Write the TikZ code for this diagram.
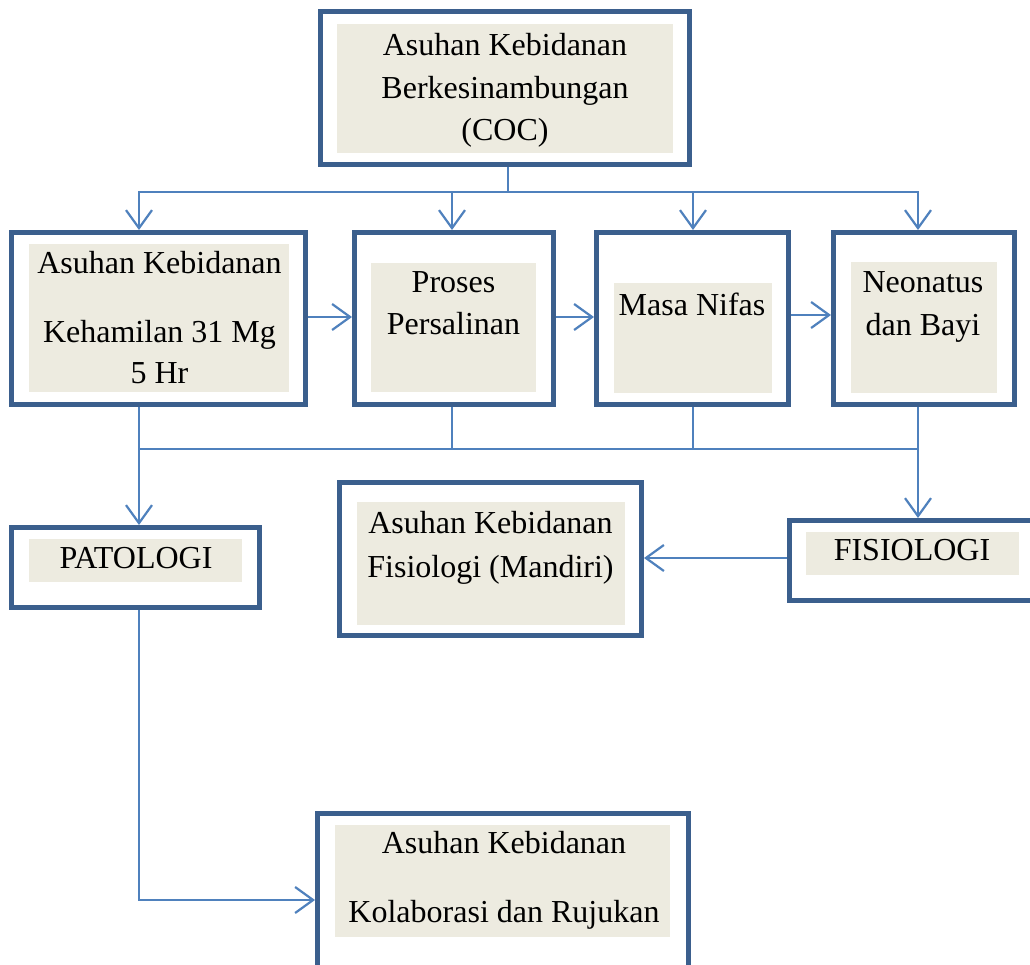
\documentclass[tikz,border=0pt]{standalone}
\usepackage{fontspec}
\setmainfont{Liberation Serif}
\usetikzlibrary{arrows.meta}
\definecolor{bord}{HTML}{3B5F8D}
\definecolor{lc}{HTML}{4F81BD}
\definecolor{beige}{HTML}{EDEBE0}
\begin{document}
\begin{tikzpicture}[x=1pt,y=-1pt,
  bx/.style={draw=bord, line width=5pt, inner sep=0pt, fill=white},
  inr/.style={fill=beige, inner sep=0pt},
  txt/.style={anchor=base, inner sep=0pt, font=\fontsize{32}{42}\selectfont},
  ln/.style={draw=lc, line width=2pt},
  arr/.style={ln, -{Straight Barb[length=18pt,width=26pt,line width=2.2pt]}}]
\useasboundingbox[fill=white] (0,0) rectangle (1030,964);
% outer boxes
\node[bx, minimum width=369pt, minimum height=153pt] (coc) at (505,88) {};
\node[bx, minimum width=294pt, minimum height=172pt] (b1) at (158.5,318.5) {};
\node[bx, minimum width=199pt, minimum height=172pt] (b2) at (454,318.5) {};
\node[bx, minimum width=192pt, minimum height=172pt] (b3) at (692.5,318.5) {};
\node[bx, minimum width=181pt, minimum height=172pt] (b4) at (924,318.5) {};
\node[bx, minimum width=248pt, minimum height=80pt] (pat) at (135.5,567.5) {};
\node[bx, minimum width=302pt, minimum height=153pt] (man) at (490.5,559) {};
\node[bx, minimum width=246pt, minimum height=80pt] (fis) at (912.5,560.5) {};
\node[bx, minimum width=371pt, minimum height=174pt] (kol) at (503,900.5) {};
% inner fills
\node[inr, minimum width=336pt, minimum height=129pt] (cocI) at (505,88.5) {};
\node[inr, minimum width=260pt, minimum height=148pt] (b1I) at (159,318) {};
\node[inr, minimum width=165pt, minimum height=129pt] (b2I) at (453.5,327.5) {};
\node[inr, minimum width=158pt, minimum height=110pt] (b3I) at (693,338) {};
\node[inr, minimum width=146pt, minimum height=131pt] (b4I) at (924,327.5) {};
\node[inr, minimum width=213pt, minimum height=43pt] (patI) at (135.5,560.5) {};
\node[inr, minimum width=268pt, minimum height=123pt] (manI) at (491,563.5) {};
\node[inr, minimum width=213pt, minimum height=43pt] (fisI) at (912.5,553.5) {};
\node[inr, minimum width=335pt, minimum height=112pt] (kolI) at (502.5,881) {};
% texts
\node[txt] (t1) at (505,55) {Asuhan Kebidanan};
\node[txt] (t2) at (505,98) {Berkesinambungan};
\node[txt] (t3) at (505,140) {(COC)};
\node[txt] (t4) at (159.5,273) {Asuhan Kebidanan};
\node[txt] (t5) at (159.5,342) {Kehamilan 31 Mg};
\node[txt] (t6) at (159.5,383) {5 Hr};
\node[txt] (t7) at (453.5,292) {Proses};
\node[txt] (t8) at (453.5,334) {Persalinan};
\node[txt] (t9) at (692,315) {Masa Nifas};
\node[txt] (t10) at (923,292) {Neonatus};
\node[txt] (t11) at (923,335) {dan Bayi};
\node[txt] (t12) at (136,568) {PATOLOGI};
\node[txt] (t13) at (490.5,533) {Asuhan Kebidanan};
\node[txt] (t14) at (490.5,577) {Fisiologi (Mandiri)};
\node[txt] (t15) at (912,560) {FISIOLOGI};
\node[txt] (t16) at (504,853) {Asuhan Kebidanan};
\node[txt] (t17) at (504,922) {Kolaborasi dan Rujukan};
% column / row coordinates
\coordinate (bus) at (508,192);
\coordinate (lb) at (0,449);
\coordinate (c1) at (139,0);
\coordinate (c2) at (452,0);
\coordinate (c3) at (693,0);
\coordinate (c4) at (918,0);
\coordinate (r1) at (0,317);
\coordinate (r2) at (0,315);
\coordinate (r3) at (0,558);
\coordinate (r4) at (0,900);
% connectors
\draw[ln] (coc.south -| bus) -- (bus);
\draw[arr] (bus) -| (b1.north -| c1);
\draw[arr] (bus) -| (b2.north -| c2);
\draw[arr] (bus) -| (b3.north -| c3);
\draw[arr] (bus) -| (b4.north -| c4);
\draw[arr] (b1.east |- r1) -- (b2.west |- r1);
\draw[arr] (b2.east |- r1) -- (b3.west |- r1);
\draw[arr] (b3.east |- r2) -- (b4.west |- r2);
\draw[ln] (c1 |- lb) -- (c4 |- lb);
\draw[ln] (b2.south -| c2) -- (c2 |- lb);
\draw[ln] (b3.south -| c3) -- (c3 |- lb);
\draw[arr] (b1.south -| c1) -- (pat.north -| c1);
\draw[arr] (b4.south -| c4) -- (fis.north -| c4);
\draw[arr] (fis.west |- r3) -- (man.east |- r3);
\draw[arr] (pat.south -| c1) |- (kol.west |- r4);
\end{tikzpicture}
\end{document}
